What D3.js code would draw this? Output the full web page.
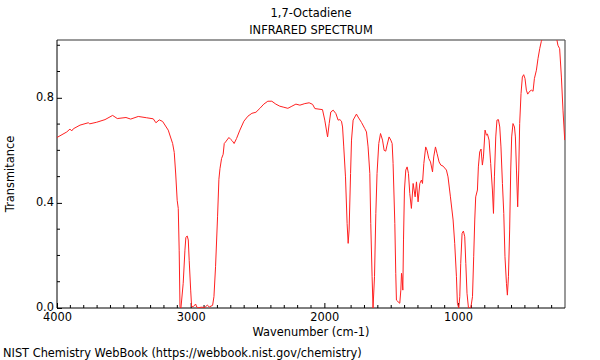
<!DOCTYPE html>
<html><head><meta charset="utf-8">
<script src="https://cdn.jsdelivr.net/npm/d3@7"></script>
<style>body{margin:0;background:#fff}svg{display:block}text{font-family:"DejaVu Sans",sans-serif;fill:#000}</style>
</head><body>
<svg id="c" width="600" height="360"></svg>
<script>
const title1 = "1,7-Octadiene";
const title2 = "INFRARED SPECTRUM";
const xLabel = "Wavenumber (cm-1)";
const yLabel = "Transmitance";
const footer = "NIST Chemistry WebBook (https://webbook.nist.gov/chemistry)";
const xTickLabels = [4000, 3000, 2000, 1000];
const yTickLabels = [0.0, 0.4, 0.8];
const wavenumber = [4000,3927,3903,3890,3878,3828,3766,3755,3703,3641,3584,3549,3484,3449,3392,3329,3280,3260,3235,3210,3168,3135,3123,3112,3101,3093,3086,3080,3073,3056,3043,3036,3026,3018,3011,3000,2993,2981,2963,2955,2944,2920,2894,2876,2861,2836,2826,2814,2799,2789,2781,2769,2757,2749,2739,2714,2699,2687,2675,2657,2632,2602,2572,2542,2512,2482,2453,2423,2393,2363,2333,2303,2273,2243,2213,2183,2146,2114,2088,2071,2014,1997,1976,1964,1952,1934,1914,1897,1884,1872,1864,1855,1842,1830,1822,1815,1804,1797,1785,1760,1748,1722,1698,1685,1673,1660,1653,1643,1636,1625,1615,1606,1593,1580,1565,1553,1541,1531,1516,1503,1493,1486,1473,1466,1461,1449,1436,1428,1423,1419,1413,1408,1401,1391,1381,1371,1361,1349,1336,1321,1311,1299,1286,1274,1266,1256,1242,1232,1219,1206,1191,1182,1169,1157,1142,1129,1112,1087,1075,1057,1037,1025,1012,1005,995,987,980,970,960,950,942,933,922,905,892,883,875,868,855,848,838,828,818,810,798,788,780,768,756,743,735,728,718,709,698,688,679,668,658,649,638,631,623,614,606,599,589,578,571,563,554,546,539,529,519,509,499,489,479,464,451,439,429,414,402,389,377,365,264,253,240,227,215,202];
const transmittance = [0.649,0.670,0.681,0.674,0.682,0.696,0.705,0.701,0.707,0.717,0.733,0.721,0.725,0.719,0.729,0.724,0.720,0.705,0.716,0.710,0.677,0.626,0.592,0.51,0.41,0.379,0.22,0.005,0.0,0.094,0.22,0.269,0.274,0.259,0.18,0.068,0.005,0.005,0.015,0.004,0.001,0.003,0.002,0.011,0.004,0.01,0.043,0.157,0.347,0.49,0.53,0.569,0.585,0.626,0.632,0.649,0.641,0.635,0.626,0.645,0.677,0.711,0.730,0.741,0.745,0.760,0.776,0.787,0.787,0.776,0.768,0.764,0.760,0.768,0.776,0.772,0.778,0.781,0.775,0.759,0.755,0.715,0.651,0.702,0.746,0.753,0.740,0.715,0.717,0.711,0.689,0.613,0.499,0.322,0.246,0.297,0.512,0.639,0.715,0.738,0.727,0.706,0.683,0.670,0.613,0.512,0.322,0.119,0.0,0.119,0.36,0.512,0.626,0.664,0.639,0.60,0.597,0.620,0.651,0.639,0.626,0.550,0.322,0.132,0.030,0.024,0.018,0.068,0.132,0.119,0.068,0.259,0.449,0.525,0.537,0.512,0.436,0.379,0.474,0.423,0.480,0.404,0.474,0.487,0.474,0.550,0.613,0.600,0.569,0.556,0.518,0.575,0.613,0.588,0.556,0.544,0.540,0.525,0.499,0.423,0.335,0.246,0.119,0.018,0.0,0.043,0.17,0.284,0.293,0.271,0.17,0.056,0.0,0.0,0.043,0.195,0.335,0.423,0.449,0.537,0.594,0.605,0.544,0.575,0.677,0.658,0.662,0.639,0.550,0.449,0.360,0.499,0.651,0.715,0.717,0.689,0.613,0.474,0.360,0.195,0.094,0.049,0.119,0.297,0.525,0.651,0.702,0.689,0.651,0.525,0.385,0.525,0.702,0.816,0.879,0.888,0.873,0.829,0.814,0.825,0.829,0.825,0.873,0.905,0.949,0.987,1.015,1.03,1.03,1.0,0.987,0.879,0.753,0.639];

const FS = 11.4;
const svg = d3.select("#c");
const L = 57, R = 565, T = 40, B = 308;
const x = d3.scaleLinear().domain([4000, 200]).range([L, R]);
const y = d3.scaleLinear().domain([0, 1.02]).range([B, T]);

svg.append("clipPath").attr("id","clip").append("rect")
  .attr("x", L).attr("y", T).attr("width", R - L).attr("height", B - T);

// minor ticks
const xMinor = d3.range(300, 4001, 100).filter(v => v % 1000 !== 0);
const yMinor = [0.1,0.2,0.3,0.5,0.6,0.7,0.9,1.0];
const g = svg.append("g");
g.selectAll(".xm").data(xMinor).join("line")
  .attr("x1", d => x(d)).attr("x2", d => x(d)).attr("y1", B).attr("y2", B - 3)
  .attr("stroke", "#000").attr("stroke-width", 1);
g.selectAll(".ym").data(yMinor).join("line")
  .attr("x1", L).attr("x2", L + 3).attr("y1", d => y(d)).attr("y2", d => y(d))
  .attr("stroke", "#000").attr("stroke-width", 1);

// axes
const xAxis = d3.axisBottom(x).tickValues(xTickLabels).tickSize(-5).tickPadding(6).tickFormat(d3.format("d"));
const gx = svg.append("g").attr("transform", `translate(0,${B})`).call(xAxis);
gx.select(".domain").remove();
gx.selectAll("text").attr("font-size", FS).attr("font-family", "DejaVu Sans").attr("dy", "0.6em");

const yAxis = d3.axisLeft(y).tickValues(yTickLabels).tickSize(-5).tickPadding(3).tickFormat(d3.format(".1f"));
const gy = svg.append("g").attr("transform", `translate(${L},0)`).call(yAxis);
gy.select(".domain").remove();
gy.selectAll("text").attr("font-size", FS).attr("font-family", "DejaVu Sans").attr("dy", "0.25em");

// frame
svg.append("line").attr("x1", L).attr("x2", R).attr("y1", T).attr("y2", T).attr("stroke", "#999").attr("stroke-width", 2);
svg.append("line").attr("x1", R).attr("x2", R).attr("y1", T).attr("y2", B).attr("stroke", "#555").attr("stroke-width", 1.2);
svg.append("line").attr("x1", L).attr("x2", L).attr("y1", T).attr("y2", B).attr("stroke", "#000").attr("stroke-width", 1);
svg.append("line").attr("x1", L).attr("x2", R).attr("y1", B).attr("y2", B).attr("stroke", "#000").attr("stroke-width", 1);

// spectrum
const pts = wavenumber.map((w, i) => [w, transmittance[i]]);
svg.append("path").datum(pts)
  .attr("clip-path", "url(#clip)")
  .attr("fill", "none").attr("stroke", "#ff2020").attr("stroke-width", 1)
  .attr("d", d3.line().x(d => x(d[0])).y(d => y(d[1])));

// text
svg.append("text").attr("x", 311).attr("y", 17).attr("text-anchor", "middle").attr("font-size", FS).text(title1);
svg.append("text").attr("x", 311).attr("y", 34).attr("text-anchor", "middle").attr("font-size", FS).text(title2);
svg.append("text").attr("x", 311).attr("y", 336).attr("text-anchor", "middle").attr("font-size", FS).text(xLabel);
svg.append("text").attr("transform", "translate(14,174) rotate(-90)").attr("text-anchor", "middle").attr("font-size", FS).text(yLabel);
svg.append("text").attr("x", 3).attr("y", 357).attr("font-size", FS).text(footer);
</script>
</body></html>
